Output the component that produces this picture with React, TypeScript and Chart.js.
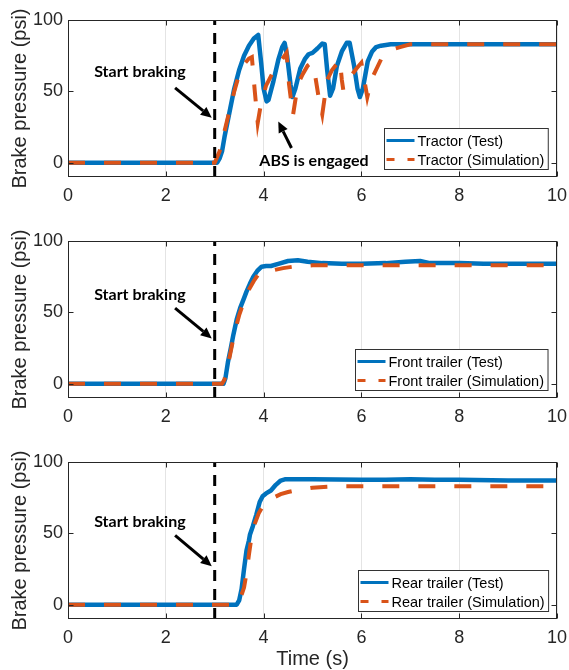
import React, { useEffect, useRef } from "react";
import { Chart, registerables } from "chart.js";

Chart.register(...registerables);

// ---------- data ----------
const xTicks = [0, 2, 4, 6, 8, 10];
const yTicks = [0, 50, 100];

const tractorTestT = [0, 3.05, 3.1, 3.15, 3.2, 3.3, 3.4, 3.5, 3.6, 3.7, 3.8, 3.89, 3.95, 4.0, 4.06, 4.1, 4.2, 4.3, 4.38, 4.43, 4.48, 4.55, 4.59, 4.65, 4.75, 4.85, 4.92, 5.0, 5.1, 5.2, 5.25, 5.3, 5.36, 5.42, 5.5, 5.6, 5.7, 5.76, 5.85, 5.92, 5.97, 6.03, 6.13, 6.22, 6.3, 6.4, 6.6, 7, 10];
const tractorTestV = [0, 0, 3, 8, 18, 35, 52, 65, 75, 82, 87, 89.5, 70, 52, 43, 44, 57, 72, 81, 84, 75, 55, 46, 52, 66, 73, 76, 77, 80, 83.5, 83, 65, 47, 52, 68, 78, 84, 84, 68, 52, 46, 52, 71, 78, 81, 82, 83, 83, 83];

const tractorSimT = [0, 3.0, 3.1, 3.2, 3.3, 3.4, 3.5, 3.6, 3.7, 3.76, 3.82, 3.88, 3.95, 4.05, 4.2, 4.35, 4.47, 4.52, 4.6, 4.7, 4.8, 4.9, 4.98, 5.05, 5.12, 5.2, 5.3, 5.4, 5.56, 5.6, 5.63, 5.77, 5.9, 6.0, 6.05, 6.12, 6.2, 6.41, 6.6, 6.79, 7.0, 10];
const tractorSimV = [0, 0, 8, 22, 36, 50, 62, 69, 73, 74, 50, 28, 42, 54, 64, 71, 77, 55, 33, 55, 62, 68, 70, 62, 47, 34, 58, 65, 72, 58, 51, 60, 66, 70, 60, 46, 58, 73, 79, 81, 83, 83];

const frontTestT = [0, 3.18, 3.22, 3.27, 3.33, 3.38, 3.45, 3.52, 3.6, 3.65, 3.72, 3.79, 3.87, 3.96, 4.05, 4.15, 4.3, 4.5, 4.7, 4.9, 5.2, 5.6, 6.0, 6.5, 6.9, 7.2, 7.4, 8.0, 8.5, 9.0, 10];
const frontTestV = [0, 0, 4, 15, 25, 34, 45, 53, 60, 64.5, 70, 75, 79, 82, 82.5, 82.5, 84, 86, 86.5, 85.5, 84.5, 84, 84, 84.5, 85.5, 86, 84.5, 84.5, 84, 84, 84];

const frontSimT = [0, 3.15, 3.2, 3.3, 3.4, 3.5, 3.6, 3.7, 3.8, 3.9, 4.0, 4.2, 4.4, 4.6, 4.8, 5.0, 10];
const frontSimV = [0, 0, 3, 18, 35, 48, 58, 66, 72, 77, 79, 79.5, 81, 82, 82.5, 83, 83];

const rearTestT = [0, 3.45, 3.5, 3.55, 3.6, 3.65, 3.7, 3.72, 3.78, 3.85, 3.92, 3.98, 4.05, 4.15, 4.25, 4.35, 4.45, 4.6, 5.0, 6.0, 6.5, 7.0, 7.5, 8.0, 9.0, 10];
const rearTestV = [0, 0, 3, 11, 25, 38, 45, 49, 55, 63, 72, 76, 78, 80, 84, 87, 88, 88, 88, 87.5, 87.5, 88, 87.5, 87.5, 87, 87];

const rearSimT = [0, 3.45, 3.5, 3.6, 3.65, 3.7, 3.75, 3.8, 3.9, 4.0, 4.1, 4.2, 4.35, 4.5, 4.7, 5.0, 5.5, 10];
const rearSimV = [0, 0, 2, 12, 22, 35, 47, 55, 64, 70, 73, 75, 77.5, 79, 80.5, 82, 83, 83];

const brakeStartT = 3;

const testLabels = ["Tractor (Test)", "Front trailer (Test)", "Rear trailer (Test)"];
const simLabels = ["Tractor (Simulation)", "Front trailer (Simulation)", "Rear trailer (Simulation)"];

const startTextLabel = "Start braking";
const absTextLabel = "ABS is engaged";

// annotation anchors in data coordinates (t, value)
const startTextAt = [[1.47, 64], [1.47, 62], [1.47, 58]];
const startArrowFrom = [[2.19, 52.5], [2.19, 53], [2.19, 48.6]];
const startArrowTo = [[2.94, 31.5], [2.94, 31.7], [2.94, 27]];
const absTextAt = [5.03, 1];
const absArrowFrom = [4.57, 10.3];
const absArrowTo = [4.3, 28.9];

// ---------- styling ----------
const BLUE = "#0072BD";
const ORANGE = "#D95319";
const AXIS = "#262626";
const FONT = "'Liberation Sans', Arial, sans-serif";
const ANN_FONT = "bold 16px Lato, 'Open Sans', sans-serif";

const zip = (t: number[], v: number[]) => t.map((x, i) => ({ x, y: v[i] }));

function drawArrow(ctx: CanvasRenderingContext2D, x1: number, y1: number, x2: number, y2: number) {
  const ang = Math.atan2(y2 - y1, x2 - x1);
  const headLen = 11;
  const headW = 5;
  const bx = x2 - headLen * Math.cos(ang);
  const by = y2 - headLen * Math.sin(ang);
  ctx.strokeStyle = "#000";
  ctx.lineWidth = 3;
  ctx.setLineDash([]);
  ctx.beginPath();
  ctx.moveTo(x1, y1);
  ctx.lineTo(bx, by);
  ctx.stroke();
  ctx.fillStyle = "#000";
  ctx.beginPath();
  ctx.moveTo(x2, y2);
  ctx.lineTo(bx + headW * Math.sin(ang), by - headW * Math.cos(ang));
  ctx.lineTo(bx - headW * Math.sin(ang), by + headW * Math.cos(ang));
  ctx.closePath();
  ctx.fill();
}

const overlayPlugin = {
  id: "overlay",
  afterDatasetsDraw(chart: any, _args: any, opts: any) {
    const { ctx, chartArea: a, scales } = chart;
    const xs = scales.x;
    const ys = scales.y;
    const L = Math.round(a.left) + 0.5;
    const R = Math.round(a.right) - 0.5;
    const T = Math.round(a.top) + 0.5;
    const B = Math.round(a.bottom) - 0.5;
    ctx.save();

    // annotations
    const p = opts.panel;
    ctx.font = ANN_FONT;
    ctx.fillStyle = "#000";
    ctx.textAlign = "center";
    ctx.textBaseline = "middle";
    const st = startTextAt[p];
    ctx.fillText(startTextLabel, xs.getPixelForValue(st[0]), ys.getPixelForValue(st[1]));
    drawArrow(
      ctx,
      xs.getPixelForValue(startArrowFrom[p][0]), ys.getPixelForValue(startArrowFrom[p][1]),
      xs.getPixelForValue(startArrowTo[p][0]), ys.getPixelForValue(startArrowTo[p][1])
    );
    if (p === 0) {
      ctx.font = ANN_FONT;
      ctx.fillStyle = "#000";
      ctx.fillText(absTextLabel, xs.getPixelForValue(absTextAt[0]), ys.getPixelForValue(absTextAt[1]));
      drawArrow(
        ctx,
        xs.getPixelForValue(absArrowFrom[0]), ys.getPixelForValue(absArrowFrom[1]),
        xs.getPixelForValue(absArrowTo[0]), ys.getPixelForValue(absArrowTo[1])
      );
    }

    // axes box
    ctx.setLineDash([]);
    ctx.strokeStyle = AXIS;
    ctx.lineWidth = 1;
    ctx.strokeRect(L, T, R - L, B - T);
    // inside ticks
    ctx.beginPath();
    const tl = 5;
    xTicks.forEach((v) => {
      const px = Math.round(xs.getPixelForValue(v)) + 0.5;
      ctx.moveTo(px, B);
      ctx.lineTo(px, B - tl);
      ctx.moveTo(px, T);
      ctx.lineTo(px, T + tl);
    });
    yTicks.forEach((v) => {
      const py = Math.round(ys.getPixelForValue(v)) + 0.5;
      ctx.moveTo(L, py);
      ctx.lineTo(L + tl, py);
      ctx.moveTo(R, py);
      ctx.lineTo(R - tl, py);
    });
    ctx.stroke();

    // legend
    ctx.font = `14.5px ${FONT}`;
    const labels = [testLabels[p], simLabels[p]];
    const tw = Math.max(...labels.map((s) => ctx.measureText(s).width));
    const sample = 28;
    const boxW = 2 + sample + 3 + tw + 4;
    const boxH = 41;
    const bx = Math.round(a.right - 9 - boxW) + 0.5;
    const by = Math.round(a.bottom - 8 - boxH) + 0.5;
    ctx.fillStyle = "#fff";
    ctx.fillRect(bx, by, boxW, boxH);
    ctx.strokeStyle = "#333";
    ctx.lineWidth = 1;
    ctx.strokeRect(bx, by, boxW, boxH);
    const rows = [by + 12, by + 31];
    ctx.strokeStyle = BLUE;
    ctx.lineWidth = 3;
    ctx.beginPath();
    ctx.moveTo(bx + 2, rows[0]);
    ctx.lineTo(bx + 2 + sample, rows[0]);
    ctx.stroke();
    ctx.strokeStyle = ORANGE;
    ctx.setLineDash([8, 13]);
    ctx.beginPath();
    ctx.moveTo(bx + 2, rows[1]);
    ctx.lineTo(bx + 2 + sample, rows[1]);
    ctx.stroke();
    ctx.setLineDash([]);
    ctx.fillStyle = "#000";
    ctx.textAlign = "left";
    ctx.textBaseline = "middle";
    ctx.fillText(labels[0], bx + 2 + sample + 3, rows[0] + 1);
    ctx.fillText(labels[1], bx + 2 + sample + 3, rows[1] + 1);

    ctx.restore();
  },
};

type PanelProps = {
  index: number;
  top: number;
  height: number;
  test: { x: number; y: number }[];
  sim: { x: number; y: number }[];
  showXTitle: boolean;
};

function Panel({ index, top, height, test, sim, showXTitle }: PanelProps) {
  const ref = useRef<HTMLCanvasElement | null>(null);
  useEffect(() => {
    if (!ref.current) return;
    const chart = new Chart(ref.current, {
      type: "line",
      data: {
        datasets: [
          {
            data: [
              { x: brakeStartT, y: -10 },
              { x: brakeStartT, y: 100 },
            ],
            borderColor: "#000",
            borderWidth: 3,
            borderDash: [11, 8],
            pointRadius: 0,
          },
          {
            data: sim,
            borderColor: ORANGE,
            borderWidth: 4,
            borderDash: [17, 19],
            pointRadius: 0,
            tension: 0,
          },
          {
            data: test,
            borderColor: BLUE,
            borderWidth: 4.5,
            pointRadius: 0,
            tension: 0,
            borderJoinStyle: "round",
          },
        ] as any,
      },
      options: {
        responsive: false,
        animation: false,
        devicePixelRatio: 1,
        events: [],
        layout: { padding: { top: 20, right: 12, left: 0, bottom: 0 } },
        plugins: {
          legend: { display: false },
          tooltip: { enabled: false },
          overlay: { panel: index },
        } as any,
        scales: {
          x: {
            type: "linear",
            min: 0,
            max: 10,
            afterBuildTicks: (s: any) => {
              s.ticks = xTicks.map((value) => ({ value }));
            },
            grid: { color: "#e4e4e4", drawTicks: true, tickLength: 8, tickColor: "rgba(0,0,0,0)", lineWidth: 1 },
            border: { display: false },
            ticks: {
              font: { family: FONT, size: 18 },
              color: AXIS,
              padding: 0,
              maxRotation: 0,
              autoSkip: false,
            },
            title: {
              display: showXTitle,
              text: "Time (s)",
              color: AXIS,
              font: { family: FONT, size: 20, lineHeight: 1 },
              padding: { top: 0, bottom: 1 },
            },
            afterFit: (s: any) => {
              s.height = height - 177;
            },
          },
          y: {
            type: "linear",
            min: -10,
            max: 100,
            afterBuildTicks: (s: any) => {
              s.ticks = yTicks.map((value) => ({ value }));
            },
            grid: { display: false, drawTicks: false },
            border: { display: false },
            ticks: {
              font: { family: FONT, size: 18 },
              color: AXIS,
              padding: 5,
              autoSkip: false,
            },
            title: {
              display: true,
              text: "Brake pressure (psi)",
              color: AXIS,
              font: { family: FONT, size: 20, lineHeight: 1 },
              padding: { top: 10, bottom: 0 },
            },
            afterFit: (s: any) => {
              s.width = 68;
            },
          },
        },
      } as any,
      plugins: [overlayPlugin],
    });
    return () => chart.destroy();
  }, []);
  return (
    <canvas
      ref={ref}
      width={569}
      height={height}
      style={{ position: "absolute", left: 0, top, width: 569, height }}
    />
  );
}

export default function App() {
  const panels = [
    { test: zip(tractorTestT, tractorTestV), sim: zip(tractorSimT, tractorSimV), top: 0, height: 221, showXTitle: false },
    { test: zip(frontTestT, frontTestV), sim: zip(frontSimT, frontSimV), top: 221, height: 221, showXTitle: false },
    { test: zip(rearTestT, rearTestV), sim: zip(rearSimT, rearSimV), top: 442, height: 228, showXTitle: true },
  ];
  return (
    <div style={{ position: "fixed", left: 0, top: 0, width: 569, height: 670, background: "#fff" }}>
      {panels.map((p, i) => (
        <Panel key={i} index={i} top={p.top} height={p.height} test={p.test} sim={p.sim} showXTitle={p.showXTitle} />
      ))}
    </div>
  );
}
